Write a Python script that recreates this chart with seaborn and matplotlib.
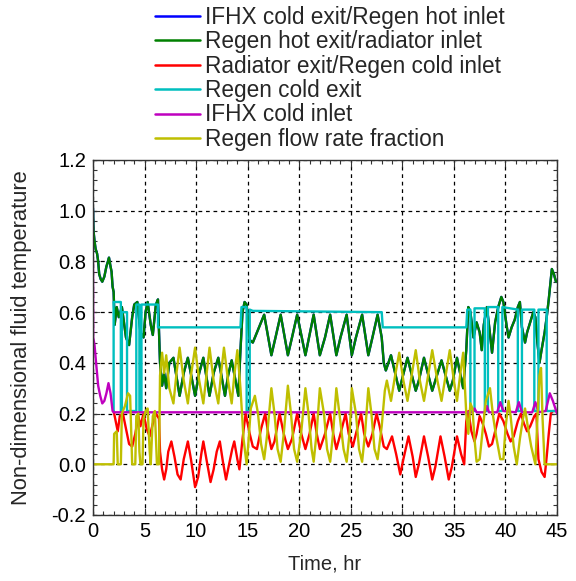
import numpy as np
import pandas as pd
import matplotlib
matplotlib.use("Agg")
import matplotlib.pyplot as plt
import seaborn as sns
from matplotlib.ticker import MultipleLocator, FormatStrFormatter
from matplotlib.lines import Line2D

# ---------------- data ----------------
labels = [
    "IFHX cold exit/Regen hot inlet",
    "Regen hot exit/radiator inlet",
    "Radiator exit/Regen cold inlet",
    "Regen cold exit",
    "IFHX cold inlet",
    "Regen flow rate fraction",
]
colors = ["#0000ff", "#008000", "#ff0000", "#00bfbf", "#bf00bf", "#bfbf00"]

green_t = [0, 0.05, 0.15, 0.25, 0.4, 0.5, 0.6, 0.75, 0.9, 1.1, 1.3, 1.45, 1.55, 1.7, 1.8, 1.9, 2.0,
           2.1, 2.3, 2.5, 2.8, 3.2, 3.5, 3.8, 4.0, 4.3, 4.6, 4.9, 5.1, 5.3, 5.6, 5.8, 6.1, 6.3, 6.5,
           6.7, 6.9, 7.1, 7.4, 7.8, 8.4, 8.8, 9.2, 9.9, 10.3, 10.7, 11.3, 11.7, 12.15, 12.8, 13.1,
           13.45, 14.1, 14.3, 14.5, 14.7, 14.9, 15.2, 15.5, 15.8, 16.2, 16.6, 17.3, 17.7, 18.2,
           18.9, 19.3, 19.8, 20.6, 21.0, 21.4, 22.0, 22.5, 23.0, 23.6, 24.0, 24.6, 25.1, 25.5,
           26.1, 26.7, 27.1, 27.6, 28.0, 28.2, 28.4, 28.9, 29.7, 30.0, 30.5, 31.3, 31.6, 32.1,
           32.9, 33.2, 33.8, 34.6, 34.9, 35.3, 35.9, 36.2, 36.4, 36.6, 36.9, 37.2, 37.5, 37.7,
           37.9, 38.2, 38.4, 38.7, 39.0, 39.3, 39.6, 39.8, 40.1, 40.3, 40.6, 40.9, 41.2, 41.4,
           41.6, 41.9, 42.1, 42.4, 42.7, 42.9, 43.1, 43.3, 43.5, 43.8, 44.0, 44.2, 44.4, 44.5,
           44.7, 44.9, 45.0]
green_v = [1.01, 0.92, 0.88, 0.85, 0.83, 0.80, 0.75, 0.73, 0.72, 0.74, 0.78, 0.80, 0.815, 0.78, 0.76, 0.70, 0.68,
           0.55, 0.62, 0.58, 0.62, 0.50, 0.47, 0.58, 0.63, 0.64, 0.52, 0.50, 0.60, 0.64, 0.55, 0.51, 0.63, 0.65, 0.40,
           0.31, 0.36, 0.30, 0.40, 0.42, 0.27, 0.36, 0.42, 0.27, 0.36, 0.42, 0.27, 0.36, 0.42, 0.27, 0.35,
           0.41, 0.27, 0.45, 0.60, 0.64, 0.63, 0.49, 0.48, 0.51, 0.55, 0.59, 0.43, 0.50, 0.59,
           0.43, 0.50, 0.59, 0.43, 0.51, 0.59, 0.43, 0.50, 0.59, 0.43, 0.50, 0.59, 0.43, 0.50,
           0.59, 0.43, 0.50, 0.59, 0.50, 0.40, 0.37, 0.43, 0.29, 0.34, 0.42, 0.29, 0.33, 0.42,
           0.29, 0.33, 0.41, 0.29, 0.33, 0.42, 0.30, 0.45, 0.62, 0.60, 0.50, 0.56, 0.52, 0.45,
           0.55, 0.62, 0.55, 0.44, 0.56, 0.62, 0.66, 0.64, 0.55, 0.50, 0.54, 0.57, 0.62, 0.64,
           0.54, 0.48, 0.52, 0.56, 0.60, 0.58, 0.48, 0.40, 0.45, 0.52, 0.58, 0.65, 0.73, 0.77,
           0.75, 0.72, 0.72]

# hot inlet sits under the hot exit trace
blue_t = list(green_t)
blue_v = list(green_v)

red_t = [2.0, 2.2, 2.4, 2.6, 2.9, 3.2, 3.5, 3.8, 4.1, 4.4, 4.6, 4.9, 5.2, 5.5, 5.8, 6.1, 6.4, 6.5,
         6.7, 6.9, 7.1, 7.3, 7.6, 7.9, 8.2, 8.5, 8.8, 9.2, 9.5, 9.9, 10.2, 10.5, 10.7, 11.0, 11.4,
         11.7, 12.0, 12.3, 12.6, 12.9, 13.2, 13.5, 13.7, 14.0, 14.2, 14.5, 14.8,
         15.2, 15.5, 15.9, 16.3, 16.7, 17.0, 17.3, 17.6, 18.1, 18.5, 18.9, 19.3, 19.8, 20.2,
         20.6, 21.0, 21.4, 21.7, 22.0, 22.5, 23.0, 23.3, 23.6, 24.0, 24.5, 24.8, 25.2, 25.5,
         26.0, 26.3, 26.7, 27.1, 27.5, 27.8, 28.2,
         28.5, 29.0, 29.4, 29.8, 30.1, 30.6, 31.0, 31.3, 31.6, 32.1, 32.5, 32.9, 33.2, 33.7,
         34.1, 34.5, 34.8, 35.3, 35.7, 36.0, 36.2, 36.4,
         36.7, 37.0, 37.2, 37.5, 37.8, 38.1, 38.4, 38.7, 39.0, 39.4, 39.8, 40.2, 40.5, 40.8,
         41.2, 41.5, 41.8, 42.1, 42.4, 42.8, 43.0, 43.2, 43.5, 43.8, 44.0, 44.2, 44.4, 44.6, 45.0]
red_v = [0.21, 0.17, 0.13, 0.19, 0.20, 0.14, 0.08, 0.07, 0.12, 0.19, 0.15, 0.20, 0.14, 0.11, 0.16, 0.20, 0.18, 0.05,
         -0.02, -0.06, -0.02, 0.05, 0.09, 0.03, -0.04, -0.06, 0.02, 0.09, 0.02, -0.09, -0.05, 0.04, 0.09, 0.02, -0.07,
         -0.02, 0.05, 0.09, 0.01, -0.06, 0.00, 0.06, 0.09, 0.02, -0.02, 0.10, 0.20,
         0.12, 0.07, 0.06, 0.14, 0.20, 0.12, 0.06, 0.09, 0.20, 0.12, 0.06, 0.10, 0.20, 0.12,
         0.06, 0.12, 0.20, 0.12, 0.06, 0.12, 0.20, 0.12, 0.06, 0.12, 0.20, 0.12, 0.07, 0.12,
         0.20, 0.12, 0.07, 0.12, 0.20, 0.15, 0.07,
         0.06, 0.11, 0.04, -0.04, 0.02, 0.11, 0.03, -0.05, 0.00, 0.11, 0.03, -0.06, -0.01, 0.11,
         0.03, -0.06, -0.01, 0.11, 0.04, 0.00, 0.17, 0.21,
         0.13, 0.09, 0.12, 0.19, 0.16, 0.12, 0.07, 0.08, 0.13, 0.20, 0.17, 0.12, 0.09, 0.11,
         0.17, 0.20, 0.16, 0.13, 0.15, 0.19, 0.20, 0.02, -0.03, -0.05, 0.03, 0.12, 0.20, 0.21, 0.21]

cyan_t = [2.0, 2.0, 2.7, 2.7, 2.8, 2.8, 3.3, 3.3, 4.2, 4.2, 4.5, 4.5, 4.7, 4.7, 6.3, 6.3,
          14.3, 14.4, 14.9, 14.9, 15.2, 15.2, 15.5, 28.0, 28.1, 36.2, 36.3, 36.6, 36.6, 37.0,
          37.0, 38.0, 38.0, 38.3, 38.3, 39.3, 39.3, 39.7, 39.7, 41.2, 41.2, 41.6, 41.6, 42.8,
          42.8, 43.2, 43.2, 44.0, 44.0, 45.0]
cyan_v = [0.21, 0.64, 0.64, 0.21, 0.21, 0.60, 0.60, 0.21, 0.21, 0.63, 0.63, 0.21, 0.21, 0.63, 0.63, 0.54,
          0.54, 0.62, 0.62, 0.21, 0.21, 0.61, 0.605, 0.60, 0.54, 0.54, 0.61, 0.61, 0.21, 0.21,
          0.615, 0.615, 0.21, 0.21, 0.62, 0.62, 0.21, 0.21, 0.62, 0.61, 0.21, 0.21, 0.61, 0.61,
          0.21, 0.21, 0.61, 0.61, 0.21, 0.21]

magenta_t = [0, 0.02, 0.15, 0.3, 0.5, 0.7, 0.9, 1.1, 1.3, 1.5, 1.7, 1.9, 2.0, 36.0, 36.8, 37.0,
             37.2, 38.0, 38.2, 38.4, 39.2, 39.5, 39.8, 41.0, 41.3, 41.6, 42.6, 42.9, 43.2, 43.9,
             44.3, 44.6, 45.0]
magenta_v = [0.80, 0.50, 0.47, 0.40, 0.31, 0.27, 0.24, 0.25, 0.28, 0.32, 0.28, 0.21, 0.205, 0.205, 0.205, 0.22,
             0.205, 0.205, 0.23, 0.205, 0.205, 0.245, 0.21, 0.205, 0.245, 0.205, 0.205, 0.245, 0.205, 0.21,
             0.28, 0.25, 0.20]

yellow_t = [0, 2.0, 2.05, 2.3, 2.4, 2.7, 2.8, 3.1, 3.4, 3.6, 3.8, 4.1, 4.2, 4.4, 4.5, 4.6, 4.8,
            4.9, 5.1, 5.3, 5.5, 5.6, 5.8, 6.0, 6.2, 6.4, 6.5,
            6.7, 6.9, 7.1, 7.4, 7.8, 8.1, 8.4, 8.8, 9.2, 9.5, 9.9, 10.3, 10.7, 11.0, 11.3, 11.7,
            12.15, 12.4, 12.7, 13.1, 13.45, 13.7, 14.0, 14.3, 14.6, 14.9, 15.1, 15.3,
            15.7, 16.0, 16.3, 16.6, 16.9, 17.3, 17.6, 17.9, 18.2, 18.5, 18.9, 19.2, 19.5, 19.8,
            20.2, 20.6, 20.9, 21.2, 21.4, 21.7, 22.0, 22.4, 22.7, 23.0, 23.3, 23.6, 23.9, 24.3,
            24.6, 24.9, 25.1, 25.5, 25.8, 26.1, 26.4, 26.7, 27.0, 27.3, 27.6, 28.0, 28.3,
            28.5, 28.9, 29.3, 29.7, 30.1, 30.5, 30.9, 31.3, 31.7, 32.1, 32.5, 32.9, 33.4, 33.8,
            34.2, 34.6, 35.0, 35.3, 35.6, 35.9, 36.2,
            36.4, 36.6, 36.8, 37.0, 37.2, 37.5, 37.8, 38.1, 38.5, 38.8, 39.1, 39.5, 39.8, 40.0,
            40.3, 40.5, 40.8, 41.1, 41.4, 41.7, 41.9, 42.2, 42.5, 42.9, 43.1, 43.3, 43.45, 43.6,
            43.8, 45.0]
yellow_v = [0.0, 0.0, 0.12, 0.13, 0.0, 0.0, 0.20, 0.23, 0.28, 0.27, 0.0, 0.0, 0.19, 0.20, 0.05, 0.0, 0.0,
            0.18, 0.21, 0.22, 0.05, 0.0, 0.19, 0.21, 0.0, 0.0, 0.35,
            0.44, 0.36, 0.43, 0.30, 0.24, 0.36, 0.46, 0.33, 0.24, 0.35, 0.46, 0.33, 0.24, 0.35, 0.46, 0.33,
            0.24, 0.35, 0.46, 0.33, 0.24, 0.35, 0.45, 0.30, 0.10, 0.0, 0.10, 0.22,
            0.27, 0.20, 0.08, 0.02, 0.12, 0.30, 0.20, 0.06, 0.01, 0.12, 0.31, 0.20, 0.06, 0.01,
            0.13, 0.30, 0.20, 0.06, 0.01, 0.13, 0.30, 0.20, 0.06, 0.01, 0.13, 0.30, 0.20, 0.06,
            0.01, 0.13, 0.30, 0.20, 0.06, 0.01, 0.13, 0.30, 0.20, 0.06, 0.02, 0.15, 0.29,
            0.33, 0.25, 0.35, 0.44, 0.33, 0.25, 0.35, 0.45, 0.33, 0.25, 0.35, 0.45, 0.33, 0.25,
            0.35, 0.45, 0.33, 0.25, 0.35, 0.44, 0.20,
            0.12, 0.24, 0.22, 0.10, 0.01, 0.02, 0.14, 0.25, 0.30, 0.19, 0.11, 0.02, 0.02, 0.14,
            0.25, 0.19, 0.07, 0.0, 0.10, 0.18, 0.22, 0.14, 0.07, 0.0, 0.18, 0.35, 0.38, 0.18,
            0.0, 0.0]

x_ticks = [0, 5, 10, 15, 20, 25, 30, 35, 40, 45]
y_ticks = [-0.2, 0.0, 0.2, 0.4, 0.6, 0.8, 1.0, 1.2]

series = [(blue_t, blue_v), (green_t, green_v), (red_t, red_v),
          (cyan_t, cyan_v), (magenta_t, magenta_v), (yellow_t, yellow_v)]

frames = []
for lab, (tt, vv) in zip(labels, series):
    d = pd.DataFrame({"t": tt, "v": vv})
    d["series"] = lab
    frames.append(d)
df = pd.concat(frames, ignore_index=True)

# ---------------- style ----------------
sns.set_style("ticks")
plt.rcParams["font.family"] = ["Liberation Sans", "DejaVu Sans"]
plt.rcParams["axes.unicode_minus"] = True

fig = plt.figure(figsize=(5.76, 5.81), dpi=100)
ax = fig.add_axes([0.16146, 0.11360, 0.80556, 0.61102])

sns.lineplot(data=df, x="t", y="v", hue="series", hue_order=labels,
             palette=dict(zip(labels, colors)), estimator=None, sort=False,
             units="series", lw=1.7, legend=False, ax=ax,
             solid_joinstyle="round", solid_capstyle="round")

ax.set_xlim(0, 45)
ax.set_ylim(-0.2, 1.2)
ax.set_xticks(x_ticks)
ax.set_yticks(y_ticks)
ax.yaxis.set_major_formatter(FormatStrFormatter("%.1f"))
ax.xaxis.set_minor_locator(MultipleLocator(1))
ax.yaxis.set_minor_locator(MultipleLocator(0.04))
ax.tick_params(which="both", direction="in", top=True, right=True, colors="#333333",
               labelcolor="black")
ax.tick_params(which="major", length=5, width=0.8, labelsize=14.5, pad=5)
ax.tick_params(which="minor", length=3, width=0.8)
ax.grid(True, which="major", color="black", linestyle=(0, (3, 3)), linewidth=0.9)
for s in ax.spines.values():
    s.set_color("#333333")
    s.set_linewidth(1.0)

ax.set_xlabel("Time, hr", fontsize=14.5, labelpad=10)
ax.set_ylabel("Non-dimensional fluid temperature", fontsize=15.8, labelpad=14)

handles = [Line2D([0], [0], color=c, lw=1.8) for c in colors]
fig.legend(handles, labels, loc="upper left", bbox_to_anchor=(155 / 576, 1 - 6 / 581),
           bbox_transform=fig.transFigure, frameon=False, fontsize=16.3,
           handlelength=2.0, handletextpad=0.2, labelspacing=0.06,
           borderpad=0, borderaxespad=0)

fig.savefig("out.png", dpi=100)
